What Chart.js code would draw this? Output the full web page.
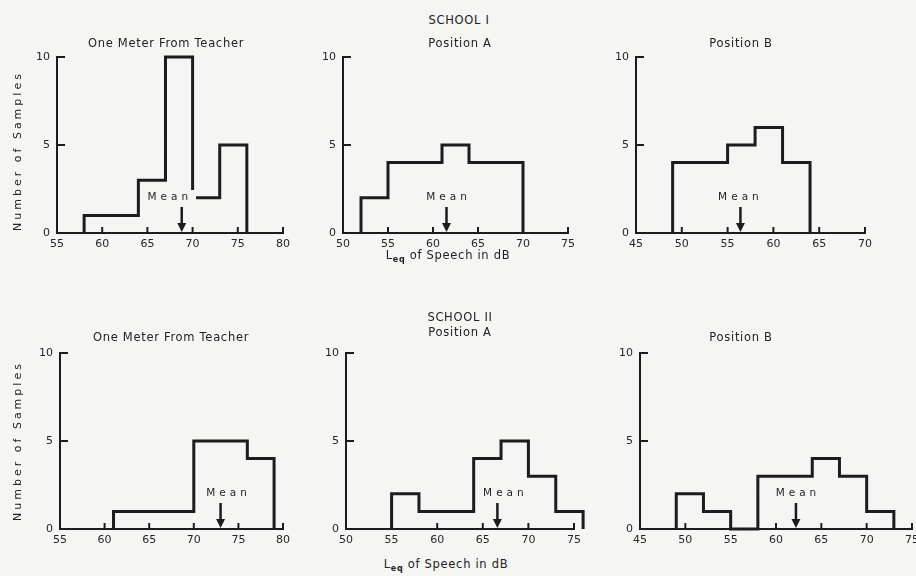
<!DOCTYPE html>
<html><head><meta charset="utf-8">
<script src="https://cdn.jsdelivr.net/npm/chart.js@4.4.1/dist/chart.umd.min.js"></script>
<style>
body{margin:0;background:#f5f5f3;width:916px;height:576px;overflow:hidden;position:relative;font-family:"DejaVu Sans",sans-serif;color:#222;}
canvas{position:absolute;}
.t{position:absolute;font-size:11.5px;letter-spacing:0.7px;white-space:nowrap;transform:translate(-50%,-50%);}
.yt{position:absolute;font-size:11px;letter-spacing:3px;white-space:nowrap;transform:translate(-50%,-50%) rotate(-90deg);}
.t sub{font-size:8px;font-weight:bold;vertical-align:-3px;}
</style></head><body>
<script>
// ---- data ----
const yTicks = [0, 5, 10];

const s1MeterEdges  = [58, 61, 64, 67, 70, 73, 76];
const s1MeterCounts = [1, 1, 3, 10, 2, 5];
const s1MeterMean   = 68.8;
const s1MeterTicks  = [55, 60, 65, 70, 75, 80];

const s1PosAEdges  = [52, 55, 58, 61, 64, 67, 70];
const s1PosACounts = [2, 4, 4, 5, 4, 4];
const s1PosAMean   = 61.5;
const s1PosATicks  = [50, 55, 60, 65, 70, 75];

const s1PosBEdges  = [49, 52, 55, 58, 61, 64];
const s1PosBCounts = [4, 4, 5, 6, 4];
const s1PosBMean   = 56.4;
const s1PosBTicks  = [45, 50, 55, 60, 65, 70];

const s2MeterEdges  = [61, 64, 67, 70, 73, 76, 79];
const s2MeterCounts = [1, 1, 1, 5, 5, 4];
const s2MeterMean   = 73.0;
const s2MeterTicks  = [55, 60, 65, 70, 75, 80];

const s2PosAEdges  = [55, 58, 61, 64, 67, 70, 73, 76];
const s2PosACounts = [2, 1, 1, 4, 5, 3, 1];
const s2PosAMean   = 66.6;
const s2PosATicks  = [50, 55, 60, 65, 70, 75];

const s2PosBEdges  = [49, 52, 55, 58, 61, 64, 67, 70, 73];
const s2PosBCounts = [2, 1, 0, 3, 3, 4, 3, 1];
const s2PosBMean   = 62.2;
const s2PosBTicks  = [45, 50, 55, 60, 65, 70, 75];

// ---- layout / style ----
const INK = '#1c1c1c';
const TXT = '#262626';
const BG = '#f5f5f3';
const FONT = '"DejaVu Sans", sans-serif';

const panels = [
  {edges:s1MeterEdges, counts:s1MeterCounts, mean:s1MeterMean, xTicks:s1MeterTicks, area:{l:57,r:283,t:57,b:233}, dx:-14, mask:true},
  {edges:s1PosAEdges,  counts:s1PosACounts,  mean:s1PosAMean,  xTicks:s1PosATicks,  area:{l:343,r:568,t:57,b:233}, dx:0},
  {edges:s1PosBEdges,  counts:s1PosBCounts,  mean:s1PosBMean,  xTicks:s1PosBTicks,  area:{l:636,r:865,t:57,b:233}, dx:-2},
  {edges:s2MeterEdges, counts:s2MeterCounts, mean:s2MeterMean, xTicks:s2MeterTicks, area:{l:60,r:283,t:353,b:529}, dx:6},
  {edges:s2PosAEdges,  counts:s2PosACounts,  mean:s2PosAMean,  xTicks:s2PosATicks,  area:{l:346,r:574,t:353,b:529}, dx:6},
  {edges:s2PosBEdges,  counts:s2PosBCounts,  mean:s2PosBMean,  xTicks:s2PosBTicks,  area:{l:640,r:912,t:353,b:529}, dx:0}
];

const markPlugin = {
  id: 'marks',
  afterDatasetsDraw(chart) {
    const o = chart.options.plugins.marks;
    const {ctx, chartArea:a, scales:{x, y}} = chart;
    ctx.save();
    ctx.strokeStyle = INK; ctx.fillStyle = INK; ctx.lineWidth = 2;
    // inward x tick marks
    o.xTicks.slice(1).forEach(v => {
      const px = x.getPixelForValue(v);
      ctx.beginPath(); ctx.moveTo(px, a.bottom); ctx.lineTo(px, a.bottom - 6); ctx.stroke();
    });
    // inward y tick marks
    o.yTicks.slice(1).forEach(v => {
      const py = y.getPixelForValue(v);
      ctx.beginPath(); ctx.moveTo(a.left, py); ctx.lineTo(a.left + 8, py); ctx.stroke();
    });
    // mean marker
    const mx = x.getPixelForValue(o.mean);
    const base = a.bottom;
    ctx.font = '10.5px ' + FONT;
    ctx.letterSpacing = '4px';
    const label = 'Mean';
    const w = ctx.measureText(label).width;
    const tx = mx + o.dx, ty = base - 36;
    if (o.mask) {
      ctx.fillStyle = BG;
      ctx.fillRect(tx - w / 2 - 2, ty - 7, w + 8, 13);
    }
    ctx.fillStyle = TXT;
    ctx.textAlign = 'center'; ctx.textBaseline = 'middle';
    ctx.fillText(label, tx + 2, ty);
    ctx.fillStyle = INK;
    ctx.lineWidth = 2.5;
    ctx.beginPath(); ctx.moveTo(mx, base - 26); ctx.lineTo(mx, base - 8); ctx.stroke();
    ctx.beginPath(); ctx.moveTo(mx - 4.5, base - 10); ctx.lineTo(mx + 4.5, base - 10); ctx.lineTo(mx, base - 1); ctx.closePath(); ctx.fill();
    ctx.restore();
  }
};

function makePanel(p) {
  const cv = document.createElement('canvas');
  const L = p.area.l - 40, T = p.area.t - 12, R = Math.min(916, p.area.r + 12), B = p.area.b + 24;
  cv.width = R - L; cv.height = B - T;
  cv.style.left = L + 'px'; cv.style.top = T + 'px';
  cv.style.width = (R - L) + 'px'; cv.style.height = (B - T) + 'px';
  document.body.appendChild(cv);
  const pts = [{x: p.edges[0], y: 0}];
  p.counts.forEach((c, i) => pts.push({x: p.edges[i], y: c}));
  pts.push({x: p.edges[p.edges.length - 1], y: 0});
  new Chart(cv, {
    type: 'line',
    data: {datasets: [{data: pts, stepped: 'before', borderColor: INK, borderWidth: 3, pointRadius: 0,
      fill: false, clip: false, borderJoinStyle: 'miter', borderCapStyle: 'butt'}]},
    options: {
      responsive: false, animation: false, events: [],
      layout: {padding: {left: 0, top: 12, right: R - p.area.r, bottom: 0}},
      plugins: {legend: {display: false}, tooltip: {enabled: false},
        marks: {mean: p.mean, dx: p.dx, mask: !!p.mask, xTicks: p.xTicks, yTicks: yTicks}},
      scales: {
        x: {type: 'linear', min: p.xTicks[0], max: p.xTicks[p.xTicks.length - 1],
          afterBuildTicks: s => { s.ticks = p.xTicks.map(v => ({value: v})); },
          afterFit: s => { s.height = 24; s.paddingLeft = 0; s.paddingRight = 0; },
          grid: {display: false, drawTicks: false},
          border: {display: true, color: INK, width: 2},
          ticks: {padding: 5, font: {family: FONT, size: 11}, color: TXT, maxRotation: 0, autoSkip: false}},
        y: {type: 'linear', min: 0, max: 10,
          afterBuildTicks: s => { s.ticks = yTicks.map(v => ({value: v})); },
          afterFit: s => { s.width = 40; s.paddingTop = 0; s.paddingBottom = 0; },
          grid: {display: false, drawTicks: false},
          border: {display: true, color: INK, width: 2},
          ticks: {padding: 7, font: {family: FONT, size: 11}, color: TXT}}
      }
    },
    plugins: [markPlugin]
  });
}
panels.forEach(makePanel);

const texts = [
  ['SCHOOL I', 459, 20], ['One Meter From Teacher', 166, 43], ['Position A', 460, 43], ['Position B', 741, 43],
  ['L<sub>eq</sub> of Speech in dB', 448, 256],
  ['SCHOOL II', 460, 317], ['One Meter From Teacher', 171, 337], ['Position A', 460, 332], ['Position B', 741, 337],
  ['L<sub>eq</sub> of Speech in dB', 446, 565]
];
texts.forEach(([s, x, y]) => {
  const d = document.createElement('div'); d.className = 't'; d.innerHTML = s;
  d.style.left = x + 'px'; d.style.top = y + 'px'; document.body.appendChild(d);
});
[[17, 151], [17, 441]].forEach(([x, y]) => {
  const d = document.createElement('div'); d.className = 'yt'; d.textContent = 'Number of Samples';
  d.style.left = x + 'px'; d.style.top = y + 'px'; document.body.appendChild(d);
});
</script>
</body></html>
